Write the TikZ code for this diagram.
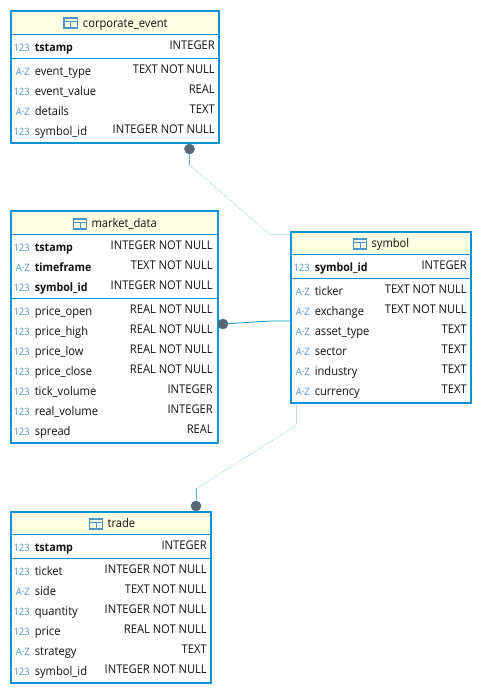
\documentclass[tikz,border=0pt]{standalone}
\usepackage{fontspec}
\setmainfont[FakeStretch=0.93]{Open Sans}
\usepackage{tikz}
\usetikzlibrary{calc}
\definecolor{EDGE}{HTML}{0A94D6}
\definecolor{HEAD}{HTML}{FEFEE2}
\definecolor{ICON}{HTML}{4A94CC}
\definecolor{LINK}{HTML}{5DB7E4}
\definecolor{DOT}{HTML}{5C6670}
\definecolor{INK}{HTML}{111111}
% one row: prefix, row no, y of name baseline, right edge, icon, name, type
\newcommand{\colrow}[7]{%
 \node[iconl] (#1i#2) at (30,#3) {#5};
 \node[namel] (#1n#2) at (34.5,#3) {#6};
 \node[typel] (#1t#2) at (#4,#3-2) {#7};}
\newcommand{\colrowpk}[7]{%
 \node[iconl] (#1i#2) at (30,#3) {#5};
 \node[namel,font=\fontsize{8.6}{10}\selectfont\bfseries] (#1n#2) at (34.5,#3) {#6};
 \node[typel] (#1t#2) at (#4,#3-2) {#7};}
\newcommand{\tabicon}[2]{%
 \draw[tabi] (#1,#2) rectangle (#1+13.5,#2+10);
 \draw[tabi] (#1,#2+3.5) -- (#1+13.5,#2+3.5) (#1+6.75,#2+3.5) -- (#1+6.75,#2+10);}
\begin{document}
\begin{tikzpicture}[x=0.75pt,y=-0.75pt]
\tikzset{tbl/.style={draw=EDGE,line width=1.5pt,inner sep=0pt,outer sep=0pt},
 headf/.style={fill=HEAD},sepl/.style={EDGE,line width=0.75pt},
 tabi/.style={ICON,line width=0.8pt},
 title/.style={anchor=base west,inner sep=0pt,text=INK,font=\fontsize{9}{10}\selectfont},
 iconl/.style={anchor=base east,inner sep=0pt,text=ICON,font=\fontsize{7.6}{10}\selectfont},
 namel/.style={anchor=base west,inner sep=0pt,text=INK,font=\fontsize{9}{10}\selectfont},
 typel/.style={anchor=base east,inner sep=0pt,text=INK,font=\fontsize{9}{10}\selectfont},
 fkdot/.style={circle,fill=DOT,draw=EDGE!45!DOT,line width=0.4pt,inner sep=0pt,minimum size=7.5pt},
 softl/.style={LINK,line width=0.5pt,densely dotted},hardl/.style={EDGE,line width=0.6pt}}
\useasboundingbox (0,0) rectangle (482,694);
\fill[white] (0,0) rectangle (482,694);
% corporate_event
\fill[headf] (11,11) rectangle (219,34.5);
\draw[sepl] (11,34.5) -- (219,34.5);\draw[sepl] (11,58.5) -- (219,58.5);
\node[tbl,minimum width=156pt,minimum height=99pt] (corporate) at (115,77) {};
\tabicon{64}{18}
\node[title] (corporatet) at (82.7,27) {corporate\_event};
\colrowpk{c}{1}{51}{215}{123}{tstamp}{INTEGER}
\colrow{c}{2}{75}{215}{A·Z}{event\_type}{TEXT NOT NULL}
\colrow{c}{3}{95}{215}{123}{event\_value}{REAL}
\colrow{c}{4}{115}{215}{A·Z}{details}{TEXT}
\colrow{c}{5}{135}{215}{123}{symbol\_id}{INTEGER NOT NULL}
% market_data
\fill[headf] (11,211) rectangle (218,234);
\draw[sepl] (11,234) -- (218,234);\draw[sepl] (11,298.5) -- (218,298.5);
\node[tbl,minimum width=155.25pt,minimum height=174pt] (market) at (114.5,327) {};
\tabicon{73.3}{219}
\node[title] (markett) at (91.3,227) {market\_data};
\colrowpk{m}{1}{251}{213}{123}{tstamp}{INTEGER NOT NULL}
\colrowpk{m}{2}{271}{213}{A·Z}{timeframe}{TEXT NOT NULL}
\colrowpk{m}{3}{291}{213}{123}{symbol\_id}{INTEGER NOT NULL}
\colrow{m}{4}{315}{213}{123}{price\_open}{REAL NOT NULL}
\colrow{m}{5}{335}{213}{123}{price\_high}{REAL NOT NULL}
\colrow{m}{6}{355}{213}{123}{price\_low}{REAL NOT NULL}
\colrow{m}{7}{375}{213}{123}{price\_close}{REAL NOT NULL}
\colrow{m}{8}{395}{213}{123}{tick\_volume}{INTEGER}
\colrow{m}{9}{415}{213}{123}{real\_volume}{INTEGER}
\colrow{m}{10}{435}{213}{123}{spread}{REAL}
% symbol
\fill[headf] (291,232) rectangle (471,254.5);
\draw[sepl] (291,254.5) -- (471,254.5);\draw[sepl] (291,278.5) -- (471,278.5);
\node[tbl,minimum width=135pt,minimum height=128.25pt] (symbol) at (381,317) {};
\tabicon{353.3}{239}
\node[title] (symbolt) at (371.3,247) {symbol};
\begin{scope}[xshift=210pt]
\colrowpk{s}{1}{271}{187}{123}{symbol\_id}{INTEGER}
\colrow{s}{2}{295}{187}{A·Z}{ticker}{TEXT NOT NULL}
\colrow{s}{3}{315}{187}{A·Z}{exchange}{TEXT NOT NULL}
\colrow{s}{4}{335}{187}{A·Z}{asset\_type}{TEXT}
\colrow{s}{5}{355}{187}{A·Z}{sector}{TEXT}
\colrow{s}{6}{375}{187}{A·Z}{industry}{TEXT}
\colrow{s}{7}{395}{187}{A·Z}{currency}{TEXT}
\end{scope}
% trade
\fill[headf] (11,512) rectangle (211,534.5);
\draw[sepl] (11,534.5) -- (211,534.5);\draw[sepl] (11,558) -- (211,558);
\node[tbl,minimum width=150pt,minimum height=128.25pt] (trade) at (111,597) {};
\tabicon{89.3}{519}
\node[title] (tradet) at (107.3,527) {trade};
\colrowpk{t}{1}{551}{207}{123}{tstamp}{INTEGER}
\colrow{t}{2}{575}{207}{123}{ticket}{INTEGER NOT NULL}
\colrow{t}{3}{595}{207}{A·Z}{side}{TEXT NOT NULL}
\colrow{t}{4}{615}{207}{123}{quantity}{INTEGER NOT NULL}
\colrow{t}{5}{635}{207}{123}{price}{REAL NOT NULL}
\colrow{t}{6}{655}{207}{A·Z}{strategy}{TEXT}
\colrow{t}{7}{675}{207}{123}{symbol\_id}{INTEGER NOT NULL}
% links
\node[fkdot] (dotc) at (189.5,149) {};
\node[fkdot] (dotm) at (223,324) {};
\node[fkdot] (dott) at (196,506) {};
\coordinate (bc1) at (189.5,165);\coordinate (bc2) at (270,234.5);
\coordinate (bm) at (270,321);
\coordinate (bt1) at (196,489);\coordinate (bt2) at (296.5,425);
\draw[LINK,line width=0.5pt] (dotc) -- (bc1);
\draw[softl] (bc1) -- (bc2) -- (symbol.west |- bc2);
\draw[hardl] (dotm) -- (bm) -- (symbol.west |- bm);
\draw[LINK,line width=0.5pt] (dott) -- (bt1);
\draw[softl] (bt1) -- (bt2) -- (bt2 |- symbol.south);
\end{tikzpicture}
\end{document}
